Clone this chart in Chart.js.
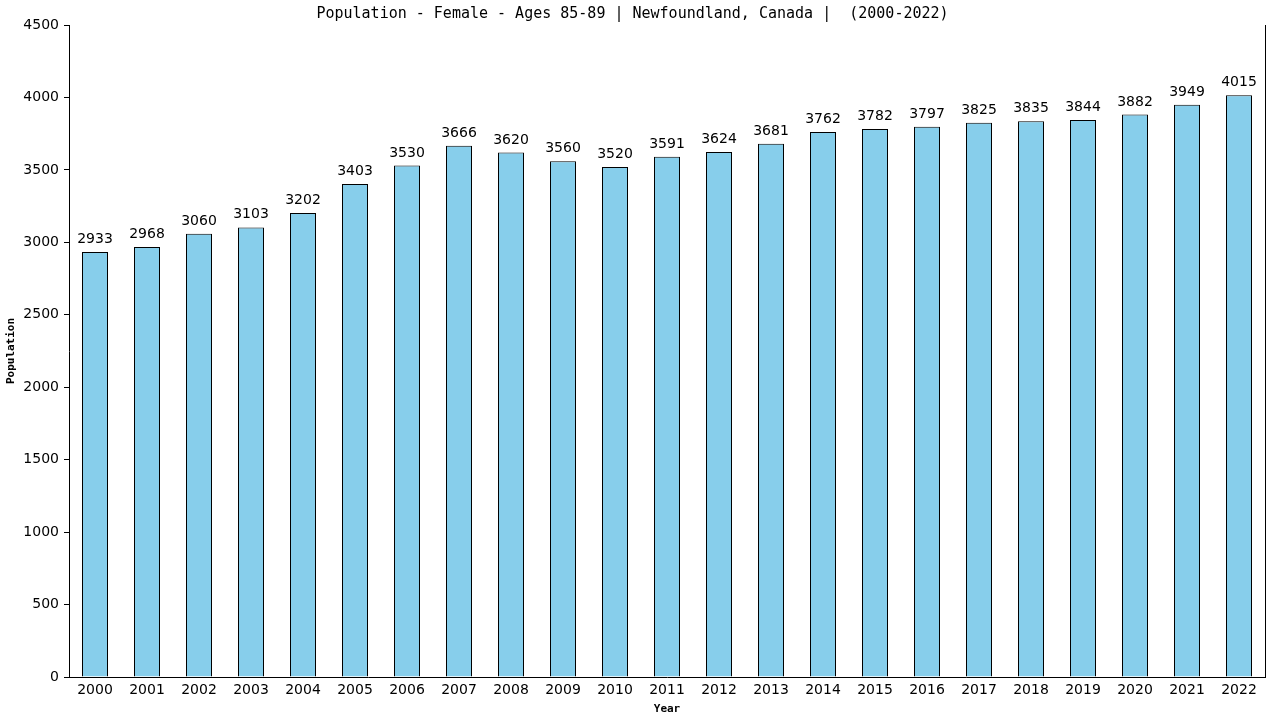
<!DOCTYPE html>
<html>
<head>
<meta charset="utf-8">
<title>Population - Female - Ages 85-89</title>
<script src="https://cdn.jsdelivr.net/npm/chart.js@4/dist/chart.umd.min.js"></script>
<style>
  html, body { margin: 0; padding: 0; background: #fff; }
  #wrap { width: 1280px; height: 720px; }
</style>
</head>
<body>
<div id="wrap"><canvas id="popChart" width="1280" height="720"></canvas></div>
<script>
// data
const years = ["2000", "2001", "2002", "2003", "2004", "2005", "2006", "2007", "2008", "2009", "2010", "2011",
  "2012", "2013", "2014", "2015", "2016", "2017", "2018", "2019", "2020", "2021", "2022"];
const femalePop = [2933, 2968, 3060, 3103, 3202, 3403, 3530, 3666, 3620, 3560, 3520, 3591,
  3624, 3681, 3762, 3782, 3797, 3825, 3835, 3844, 3882, 3949, 4015];
const yTicks = [0, 500, 1000, 1500, 2000, 2500, 3000, 3500, 4000, 4500];

const chartTitle = "Population - Female - Ages 85-89 | Newfoundland, Canada |  (2000-2022)";

// numbers above each bar
const valueLabels = {
  id: "valueLabels",
  afterDatasetsDraw(chart) {
    const ctx = chart.ctx;
    const meta = chart.getDatasetMeta(0);
    ctx.save();
    ctx.font = "14px 'DejaVu Sans'";
    ctx.fillStyle = "#000";
    ctx.textAlign = "center";
    ctx.textBaseline = "alphabetic";
    meta.data.forEach((bar, i) => {
      ctx.fillText(String(femalePop[i]), bar.x, bar.y - 9);
    });
    ctx.restore();
  },
};

// plain line on the right edge of the plot
const rightEdge = {
  id: "rightEdge",
  afterDraw(chart) {
    const { ctx, chartArea } = chart;
    ctx.save();
    ctx.strokeStyle = "#000";
    ctx.lineWidth = 1;
    ctx.beginPath();
    ctx.moveTo(Math.round(chartArea.right) + 0.5, chartArea.top);
    ctx.lineTo(Math.round(chartArea.right) + 0.5, chartArea.bottom);
    ctx.stroke();
    ctx.restore();
  },
};

const ctx = document.getElementById("popChart").getContext("2d");
new Chart(ctx, {
  type: "bar",
  data: {
    labels: years,
    datasets: [{
      label: "Population",
      data: femalePop,
      backgroundColor: "#87CEEB",
      borderColor: "#000",
      borderWidth: 1,
      borderSkipped: "bottom",
      barPercentage: 0.5,
      categoryPercentage: 1.0,
    }],
  },
  options: {
    responsive: false,
    animation: false,
    devicePixelRatio: 1,
    layout: { padding: { left: 0, right: 15, top: 0, bottom: 0 } },
    plugins: {
      legend: { display: false },
      tooltip: { enabled: false },
      title: {
        display: true,
        text: chartTitle,
        color: "#000",
        font: { family: "'DejaVu Sans Mono'", size: 15, weight: "normal", lineHeight: 1.2 },
        padding: { top: 5, bottom: 2 },
      },
    },
    scales: {
      x: {
        afterFit(scale) {
          scale.height = 43;
        },
        grid: { display: false, drawTicks: false },
        border: { display: true, color: "#000", width: 1 },
        ticks: {
          color: "#000",
          font: { family: "'DejaVu Sans'", size: 14 },
          padding: 5,
          maxRotation: 0,
          autoSkip: false,
        },
        title: {
          display: true,
          text: "Year",
          color: "#000",
          font: { family: "'DejaVu Sans Mono'", size: 11, weight: "bold", lineHeight: 1.2 },
          padding: { top: 4, bottom: 4 },
        },
      },
      y: {
        min: 0,
        max: 4500,
        afterBuildTicks(scale) {
          scale.ticks = yTicks.map((v) => ({ value: v }));
        },
        afterFit(scale) {
          scale.width = 69;
        },
        grid: {
          drawOnChartArea: false,
          drawTicks: true,
          tickLength: 5,
          color: "#000",
        },
        border: { display: true, color: "#000", width: 1 },
        ticks: {
          color: "#000",
          font: { family: "'DejaVu Sans'", size: 14 },
          padding: 5,
          callback: (v) => String(v),
        },
        title: {
          display: true,
          text: "Population",
          color: "#000",
          font: { family: "'DejaVu Sans Mono'", size: 11, weight: "bold", lineHeight: 1.2 },
          padding: { top: 5, bottom: 5 },
        },
      },
    },
  },
  plugins: [valueLabels, rightEdge],
});
</script>
</body>
</html>
